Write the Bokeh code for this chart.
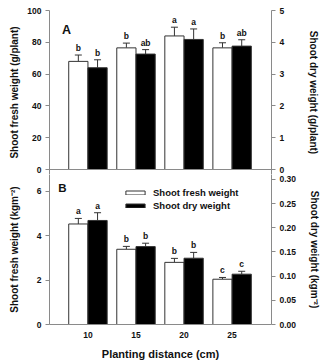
from bokeh.plotting import figure
from bokeh.models import (Range1d, LinearAxis, FixedTicker, ColumnDataSource, Whisker,
                          TeeHead, Span, Label, Legend, LegendItem, NumeralTickFormatter)
from bokeh.layouts import column
from bokeh.transform import dodge
from bokeh.core.properties import value
from bokeh.embed import file_html
from bokeh.resources import INLINE

# Planting distance (cm)
distance = [10, 15, 20, 25]

# Panel A: per plant
fresh_plant = [68.0, 76.5, 84.0, 76.5]          # g/plant
fresh_plant_err = [4.0, 3.0, 5.5, 3.2]
dry_plant = [3.20, 3.63, 4.09, 3.88]            # g/plant
dry_plant_err = [0.25, 0.14, 0.33, 0.20]
fresh_plant_sig = ["b", "b", "a", "b"]
dry_plant_sig = ["b", "ab", "a", "ab"]

# Panel B: per area
fresh_area = [4.53, 3.39, 2.80, 2.04]           # kg m^-2
fresh_area_err = [0.25, 0.13, 0.18, 0.08]
dry_area = [0.215, 0.161, 0.137, 0.104]         # kg m^-2
dry_area_err = [0.016, 0.007, 0.012, 0.006]
fresh_area_sig = ["a", "b", "b", "c"]
dry_area_sig = ["a", "b", "b", "c"]

FONT = "Liberation Sans"
AXIS_GREY = "#8a8a8a"
INK = "#111111"
W = 323


def style_axis(ax, standoff):
    ax.axis_line_color = AXIS_GREY
    ax.major_tick_line_color = AXIS_GREY
    ax.minor_tick_line_color = None
    ax.major_tick_in = 0
    ax.major_tick_out = 4
    ax.major_label_standoff = 4
    ax.major_label_text_font = FONT
    ax.major_label_text_font_style = "bold"
    ax.major_label_text_font_size = "8.5px"
    ax.major_label_text_color = INK
    ax.axis_label_text_font = FONT
    ax.axis_label_text_font_style = "bold"
    ax.axis_label_text_font_size = "10px"
    ax.axis_label_text_color = INK
    ax.axis_label_standoff = standoff


def make_panel(height, top_border, bottom_border, left_range, right_range,
               left_ticks, right_ticks, left_title, right_title, with_x):
    p = figure(width=W, height=height, output_backend="svg", toolbar_location=None,
               x_range=Range1d(6, 29.1), y_range=Range1d(*left_range),
               x_axis_location="below" if with_x else None,
               min_border_left=49, min_border_right=43,
               min_border_top=top_border, min_border_bottom=bottom_border)
    p.outline_line_color = None
    p.xgrid.visible = False
    p.ygrid.visible = False
    p.background_fill_color = "white"
    p.border_fill_color = "white"
    p.extra_y_ranges = {"dry": Range1d(*right_range)}
    p.yaxis.ticker = FixedTicker(ticks=left_ticks)
    p.yaxis.axis_label = left_title
    right = LinearAxis(y_range_name="dry", ticker=FixedTicker(ticks=right_ticks),
                       axis_label=right_title)
    p.add_layout(right, "right")
    return p, right


def add_bars(p, fresh, ferr, fsig, dry, derr, dsig):
    src = ColumnDataSource(dict(
        d=distance, fresh=fresh, fresh_hi=[v + e for v, e in zip(fresh, ferr)],
        dry=dry, dry_hi=[v + e for v, e in zip(dry, derr)], fsig=fsig, dsig=dsig))
    rf = p.vbar(x=dodge("d", -1.0), top="fresh", width=2.0, bottom=0, source=src,
                fill_color="white", line_color="#333333", line_width=1)
    rd = p.vbar(x=dodge("d", 1.0), top="dry", width=2.0, bottom=0, source=src,
                fill_color="black", line_color="#333333", line_width=1, y_range_name="dry")
    wf = Whisker(base=dodge("d", -1.0), lower="fresh", upper="fresh_hi", source=src,
                 dimension="height", line_color="#333333", line_width=1,
                 upper_head=TeeHead(size=7, line_color="#333333", line_width=1),
                 lower_head=None)
    wd = Whisker(base=dodge("d", 1.0), lower="dry", upper="dry_hi", source=src,
                 dimension="height", line_color="#333333", line_width=1,
                 upper_head=TeeHead(size=7, line_color="#333333", line_width=1),
                 lower_head=None, y_range_name="dry")
    p.add_layout(wf)
    p.add_layout(wd)
    common = dict(source=src, text_align="center", text_baseline="bottom", y_offset=-2,
                  text_font=value(FONT), text_font_style="bold", text_font_size="8.5px",
                  text_color=INK)
    p.text(x=dodge("d", -1.0), y="fresh_hi", text="fsig", **common)
    p.text(x=dodge("d", 1.0), y="dry_hi", text="dsig", y_range_name="dry", **common)
    return rf, rd


# ---- Panel A (frame runs a few pixels below zero so the "0" labels fit) ----
pA, rA = make_panel(174, 10, 0, (-3.14, 100), (-0.157, 5),
                    [0, 20, 40, 60, 80, 100], [0, 1, 2, 3, 4, 5],
                    "Shoot fresh weight (g/plant)", "Shoot dry weight (g/plant)", False)
style_axis(pA.yaxis[0], 4)
style_axis(rA, 21)
add_bars(pA, fresh_plant, fresh_plant_err, fresh_plant_sig,
         dry_plant, dry_plant_err, dry_plant_sig)
pA.add_layout(Span(location=0, dimension="width", line_color=AXIS_GREY, line_width=1))
pA.add_layout(Label(x=7.3, y=83.6, text="A", text_font=FONT, text_font_style="bold",
                    text_font_size="12.5px", text_color=INK))

# ---- Panel B ----
pB, rB = make_panel(188, 0, 35, (0, 6.76), (0, 0.310), [0, 2, 4, 6],
                    [0, 0.05, 0.10, 0.15, 0.20, 0.25, 0.30],
                    "Shoot fresh weight (kgm\u207b\u00b2)", "Shoot dry weight (kgm\u207b\u00b2)", True)
style_axis(pB.yaxis[0], 14)
style_axis(rB, 10)
rB.formatter = NumeralTickFormatter(format="0.00")
xa = pB.xaxis[0]
style_axis(xa, 7)
xa.ticker = FixedTicker(ticks=distance)
xa.major_tick_out = 0
xa.major_label_standoff = 7
xa.axis_label = "Planting distance (cm)"
xa.axis_label_text_font_size = "11px"
rf, rd = add_bars(pB, fresh_area, fresh_area_err, fresh_area_sig,
                  dry_area, dry_area_err, dry_area_sig)
pB.add_layout(Label(x=6.9, y=5.88, text="B", text_font=FONT, text_font_style="bold",
                    text_font_size="11.5px", text_color=INK))

legend = Legend(items=[LegendItem(label="Shoot fresh weight", renderers=[rf]),
                       LegendItem(label="Shoot dry weight", renderers=[rd])],
                location=(74, 113), glyph_width=24, glyph_height=5, label_height=12,
                label_standoff=6, spacing=1, padding=0, margin=0,
                border_line_color=None, background_fill_alpha=0,
                label_text_font=FONT, label_text_font_style="bold",
                label_text_font_size="9.5px", label_text_color=INK)
pB.add_layout(legend)

layout = column(pA, pB, spacing=0)
open("out.html", "w").write(file_html(layout, INLINE))
